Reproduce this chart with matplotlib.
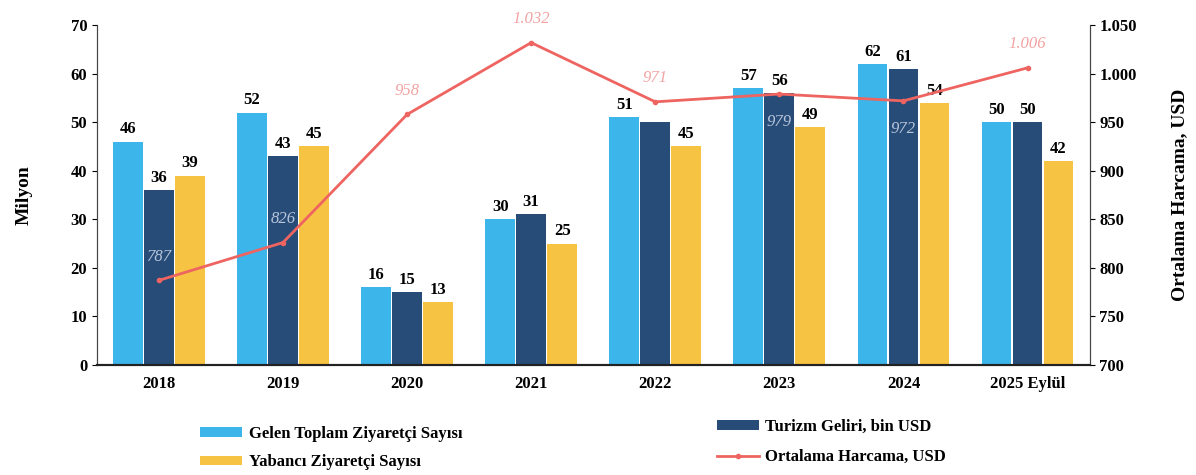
import numpy as np
import matplotlib
matplotlib.use("Agg")
import matplotlib.pyplot as plt
from matplotlib.ticker import FuncFormatter

# Data
years = ["2018", "2019", "2020", "2021", "2022", "2023", "2024", "2025 Eylül"]
toplam_ziyaretci = [46, 52, 16, 30, 51, 57, 62, 50]
turizm_geliri = [36, 43, 15, 31, 50, 56, 61, 50]
turizm_etiket = ["36", "43", "15", "31", "", "56", "61", "50"]
yabanci_ziyaretci = [39, 45, 13, 25, 45, 49, 54, 42]
ortalama_harcama = [787, 826, 958, 1032, 971, 979, 972, 1006]
harcama_etiket = ["787", "826", "958", "1.032", "971", "979", "972", "1.006"]

c_light = "#3cb6ea"
c_dark = "#274c78"
c_yellow = "#f6c343"
c_line = "#ee6461"

plt.rcParams['font.family'] = ['Liberation Serif', 'DejaVu Serif']

fig = plt.figure(figsize=(11.96, 4.75), dpi=100)
ax = fig.add_axes([0.081, 0.232, 0.83, 0.715])
ax2 = ax.twinx()

x = np.arange(len(years))
w = 0.24
b1 = ax.bar(x - w - 0.01, toplam_ziyaretci, w, color=c_light, label="Gelen Toplam Ziyaretçi Sayısı")
b2 = ax.bar(x, turizm_geliri, w, color=c_dark, label="Turizm Geliri, bin USD")
b3 = ax.bar(x + w + 0.01, yabanci_ziyaretci, w, color=c_yellow, label="Yabancı Ziyaretçi Sayısı")

ax.bar_label(b1, labels=[str(v) for v in toplam_ziyaretci], padding=3, fontsize=12, fontweight="bold")
ax.bar_label(b2, labels=turizm_etiket, padding=3, fontsize=12, fontweight="bold")
ax.bar_label(b3, labels=[str(v) for v in yabanci_ziyaretci], padding=3, fontsize=12, fontweight="bold")

ax.set_ylim(0, 70)
ax.set_yticks(range(0, 71, 10))
ax.set_xlim(-0.5, len(years) - 0.5)
ax.set_xticks(x)
ax.set_xticklabels(years, fontsize=12, fontweight="bold")
ax.tick_params(axis="y", labelsize=12)
for t in ax.get_yticklabels():
    t.set_fontweight("bold")
ax.tick_params(axis="x", length=0, pad=8)
ax.set_ylabel("Milyon", fontsize=14, fontweight="bold", labelpad=27)

line, = ax2.plot(x, ortalama_harcama, color=c_line, lw=2, marker="o", ms=3,
                 label="Ortalama Harcama, USD")
ax2.set_ylim(700, 1050)
ax2.set_yticks(range(700, 1051, 50))
ax2.yaxis.set_major_formatter(FuncFormatter(lambda v, p: f"{int(v):,}".replace(",", ".")))
ax2.tick_params(axis="y", labelsize=12)
for t in ax2.get_yticklabels():
    t.set_fontweight("bold")
ax2.set_ylabel("Ortalama Harcama, USD", fontsize=14, fontweight="bold", labelpad=25)

offsets = [17, 17, 17, 17, 17, -20, -20, 17]
for i, (v, lab) in enumerate(zip(ortalama_harcama, harcama_etiket)):
    col = "#f2a3a3" if offsets[i] > 0 and i not in (0, 1) else "#b8c6dc"
    ax2.annotate(lab, (x[i], v), xytext=(0, offsets[i]), textcoords="offset points",
                 ha="center", va="center", fontsize=12, fontstyle="italic", color=col)

for a in (ax, ax2):
    a.spines["top"].set_visible(False)
    a.spines["left"].set_color("#444444")
    a.spines["right"].set_color("#444444")
    a.spines["bottom"].set_color("#222222")
    a.spines["bottom"].set_linewidth(1.5)

leg_prop = {"weight": "bold", "size": 12}
fig.legend([b1, b3], [b1.get_label(), b3.get_label()], loc="upper left",
           bbox_to_anchor=(0.155, 0.135), frameon=False, prop=leg_prop,
           handlelength=2.5, handleheight=0.5, handletextpad=0.4, labelspacing=0.75)
fig.legend([b2, line], [b2.get_label(), line.get_label()], loc="upper left",
           bbox_to_anchor=(0.587, 0.15), frameon=False, prop=leg_prop,
           handlelength=2.5, handleheight=0.5, handletextpad=0.4, labelspacing=0.85)

fig.savefig("out.png", dpi=100)
